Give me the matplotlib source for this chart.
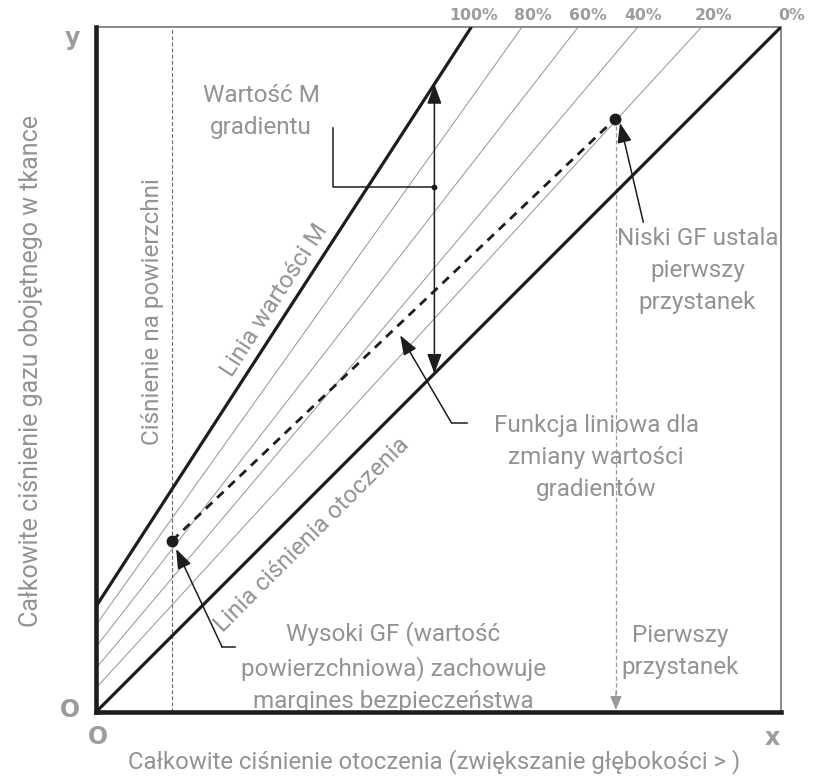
import matplotlib
matplotlib.use("Agg")
import matplotlib.pyplot as plt
import numpy as np

plt.rcParams['font.family'] = ['Roboto', 'DejaVu Sans']

# ---------------- data ----------------
gf_labels = ['100%', '80%', '60%', '40%', '20%', '0%']
gf_intercepts = [1.54, 1.27, 0.95, 0.64, 0.35, 0.0]   # tissue pressure at x = 0
gf_top_x = [5.48, 6.22, 7.04, 7.91, 8.84, 10.0]        # where each line reaches y = 10
gf_label_x = [5.51, 6.38, 7.18, 7.98, 9.02, 10.16]

surface_x = 1.11
gf_high_point = (1.11, 2.50)
gf_low_point = (7.58, 8.66)
first_stop_x = 7.59
m_arrow_x = 4.94

callout_m = [(3.46, 8.53), (3.46, 7.66), (4.94, 7.66)]
arrow_func = [(5.42, 4.22), (5.19, 4.22), (4.44, 5.50)]
arrow_low = [(7.99, 7.15), (7.65, 8.60)]
arrow_high = [(2.03, 0.95), (1.84, 0.95), (1.17, 2.38)]

TXT = '#939393'
BLK = '#1e1c1d'

fig = plt.figure(figsize=(8.14, 7.76), dpi=100)
ax = fig.add_axes([96 / 814, 64 / 776, 685 / 814, 685 / 776])
ax.set_xlim(0, 10)
ax.set_ylim(0, 10)
ax.set_xticks([])
ax.set_yticks([])
for s in ['left', 'bottom']:
    ax.spines[s].set_linewidth(3.3)
    ax.spines[s].set_color(BLK)
    ax.spines[s].set_zorder(10)
for s in ['top', 'right']:
    ax.spines[s].set_linewidth(1.4)
    ax.spines[s].set_color('#8a8a8a')

# GF lines
for i, (lab, b0, xt, lx) in enumerate(zip(gf_labels, gf_intercepts, gf_top_x, gf_label_x)):
    xs = np.array([0, xt])
    ys = np.array([b0, 10])
    thick = i == 0 or i == len(gf_labels) - 1
    ax.plot(xs, ys, color=BLK if thick else '#9a9a9a',
            lw=2.3 if thick else 0.75, solid_capstyle='butt', zorder=3 if thick else 2)
    ax.text(lx, 10.175, lab, ha='center', va='center', color='#9c9c9c',
            fontsize=11.3, fontweight='bold', clip_on=False, family='DejaVu Sans')

# surface pressure dashed line
ax.plot([surface_x, surface_x], [0, 10], color='#6a6a6a', lw=0.8,
        dashes=(3.5, 2.0), zorder=2)

# first stop dashed line with arrow
ax.plot([first_stop_x, first_stop_x], [gf_low_point[1], 0.2], color='#9a9a9a',
        lw=0.9, dashes=(3.5, 2.0), zorder=2)
ax.annotate('', xy=(first_stop_x, 0.03), xytext=(first_stop_x, 0.3),
            arrowprops=dict(arrowstyle='-|>,head_length=0.6,head_width=0.25',
                            color='#9a9a9a', lw=0.9,
                            mutation_scale=14, shrinkA=0, shrinkB=0), zorder=4)

# gradient factor dashed line and points
ax.plot([gf_high_point[0], gf_low_point[0]], [gf_high_point[1], gf_low_point[1]],
        color=BLK, lw=2.0, dashes=(3.2, 2.4), zorder=4)
ax.plot([gf_high_point[0], gf_low_point[0]], [gf_high_point[1], gf_low_point[1]],
        'o', color=BLK, ms=7.5, zorder=5)

HEAD = 'head_length=0.6,head_width=0.22'

# M-value double arrow
m_slope = (10 - gf_intercepts[0]) / gf_top_x[0]
y_top = gf_intercepts[0] + m_slope * m_arrow_x
ax.annotate('', xy=(m_arrow_x, y_top), xytext=(m_arrow_x, m_arrow_x),
            arrowprops=dict(arrowstyle='<|-|>,' + HEAD, color=BLK, lw=1.1,
                            mutation_scale=20, shrinkA=0, shrinkB=0), zorder=5)

# M-value callout
cx, cy = zip(*callout_m)
ax.plot(cx, cy, color=BLK, lw=1.1, zorder=5)
ax.plot([cx[-1]], [cy[-1]], 'o', color=BLK, ms=3.2, zorder=6)

def elbow_arrow(pts):
    px, py = zip(*pts)
    ax.plot(px[:-1], py[:-1], color=BLK, lw=1.1, zorder=5)
    ax.annotate('', xy=pts[-1], xytext=pts[-2],
                arrowprops=dict(arrowstyle='-|>,' + HEAD, color=BLK, lw=1.1,
                                mutation_scale=20, shrinkA=0, shrinkB=0), zorder=5)

elbow_arrow(arrow_func)
elbow_arrow(arrow_low)
elbow_arrow(arrow_high)

# texts
fs = 17.5
kw = dict(color=TXT, fontsize=fs, ha='center', va='center', linespacing=1.5)
ax.text(2.41, 8.77, 'Wartość M\ngradientu', **kw)
ax.text(7.30, 3.71, 'Funkcja liniowa dla\nzmiany wartości\ngradientów', **kw)
ax.text(8.78, 6.44, 'Niski GF ustala\npierwszy\nprzystanek', **kw)
ax.text(4.34, 0.66, 'Wysoki GF (wartość\npowierzchniowa) zachowuje\nmargines bezpieczeństwa', **kw)
ax.text(8.53, 0.88, 'Pierwszy\nprzystanek', **kw)
ax.text(0.82, 5.84, 'Ciśnienie na powierzchni', rotation=90, **kw)
ax.text(2.61, 6.01, 'Linia wartości M', rotation=np.degrees(np.arctan(m_slope)), **kw)
ax.text(3.15, 2.58, 'Linia ciśnienia otoczenia', rotation=45, **kw)

# axis labels
fig.text(31 / 814, 1 - 371 / 776, 'Całkowite ciśnienie gazu obojętnego w tkance',
         rotation=90, ha='center', va='center', color=TXT, fontsize=18)
fig.text(434 / 814, 1 - 762 / 776,
         'Całkowite ciśnienie otoczenia (zwiększanie głębokości > )',
         ha='center', va='center', color=TXT, fontsize=17.2)

bk = dict(color='#9c9c9c', fontsize=17, fontweight='bold', ha='center', va='center',
          family='DejaVu Sans')
fig.text(70 / 814, 1 - 710 / 776, 'O', **bk)
fig.text(98 / 814, 1 - 737 / 776, 'O', **bk)
fig.text(772 / 814, 1 - 738 / 776, 'x', **bk)
fig.text(72 / 814, 1 - 38 / 776, 'y', **bk)

fig.savefig('out.png', dpi=100)
